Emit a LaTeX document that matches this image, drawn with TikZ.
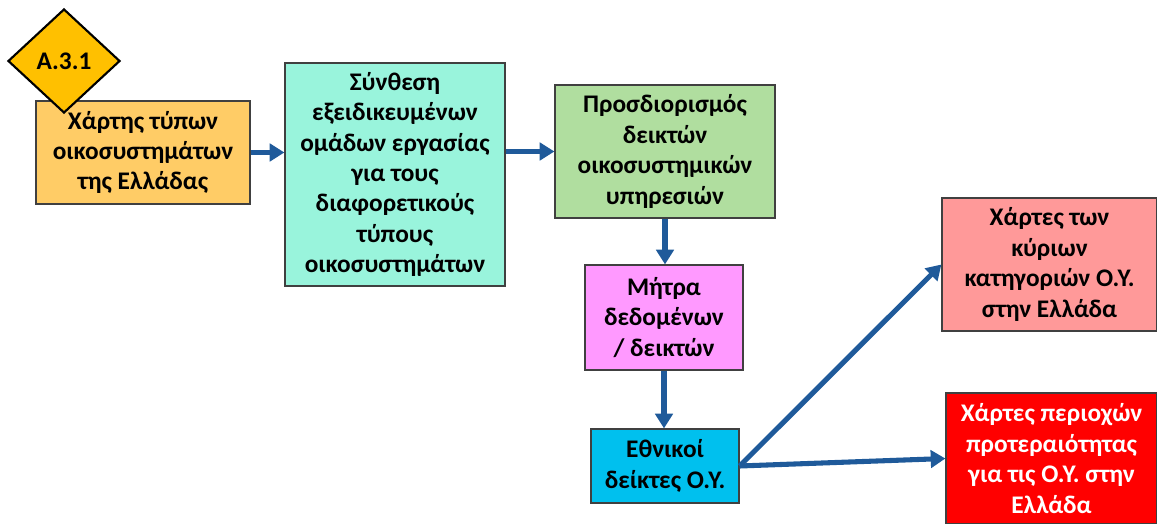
\documentclass[tikz,border=0pt]{standalone}
\usepackage{fontspec}
\setmainfont{Carlito}
\usetikzlibrary{shapes,arrows.meta,positioning}

\definecolor{diamondorange}{HTML}{FFC000}
\definecolor{mapsorange}{HTML}{FFCC66}
\definecolor{groupteal}{HTML}{99F4DC}
\definecolor{indgreen}{HTML}{B0DE9F}
\definecolor{matrixpink}{HTML}{FF99FF}
\definecolor{natcyan}{HTML}{00C0EE}
\definecolor{mapspink}{HTML}{FF9999}
\definecolor{mapsred}{HTML}{FF0000}
\definecolor{flowblue}{HTML}{1F5A9A}

\begin{document}
\begin{tikzpicture}[x=0.75pt, y=-0.75pt,
    box/.style={draw=black!75, line width=0.9pt, align=center, inner sep=0pt,
      font=\fontsize{19}{22.8}\selectfont\bfseries},
    flow/.style={draw=flowblue, line width=3.8pt, -{Triangle[length=11pt,width=13pt]}}]
      \useasboundingbox (0,0) rectangle (1157,524);

      % Column 1
      \node[box, fill=mapsorange, minimum width=160.5pt, minimum height=77.25pt] (typemap) at (143,152.5)
        {Χάρτης τύπων\\οικοσυστημάτων\\της Ελλάδας};
      \node[box, diamond, fill=diamondorange, line width=1.6pt, draw=black, minimum width=84pt, minimum height=78pt] (task) at (64,61)
        {A.3.1};

      % Column 2
      \node[box, fill=groupteal, minimum width=165pt, minimum height=167.25pt] (groups) at (395,174.5)
        {Σύνθεση\\εξειδικευμένων\\ομάδων εργασίας\\για τους\\διαφορετικούς\\τύπους\\οικοσυστημάτων};

      % Column 3
      \node[box, fill=indgreen, minimum width=165pt, minimum height=99.75pt] (select) at (665,151.5)
        {Προσδιορισμός\\δεικτών\\οικοσυστημικών\\υπηρεσιών};
      \node[box, fill=matrixpink, minimum width=118.5pt, minimum height=78.75pt] (matrix) at (664,317.5)
        {Μήτρα\\δεδομένων\\/ δεικτών};
      \node[box, fill=natcyan, minimum width=111pt, minimum height=55.5pt] (national) at (665,466)
        {Εθνικοί\\δείκτες Ο.Υ.};

      % Column 4
      \node[box, fill=mapspink, minimum width=161.25pt, minimum height=99.75pt] (catmaps) at (1049.5,264.5)
        {Χάρτες των\\κύριων\\κατηγοριών Ο.Υ.\\στην Ελλάδα};
      \node[box, fill=mapsred, text=white, minimum width=158.25pt, minimum height=98.25pt] (priomaps) at (1051.5,458.5)
        {Χάρτες περιοχών\\προτεραιότητας\\για τις Ο.Υ. στην\\Ελλάδα};

      % Arrows
      \draw[flow] (typemap.east) -- (typemap.east -| groups.west);
      \draw[flow] (groups.east |- select.west) -- (select.west);
      \draw[flow] (select.south) -- (select.south |- matrix.north);
      \draw[flow] (matrix.south) -- (matrix.south |- national.north);
      \draw[flow] (national.east) -- (catmaps.west);
      \draw[flow] (national.east) -- (priomaps.west);
    \end{tikzpicture}
\end{document}
